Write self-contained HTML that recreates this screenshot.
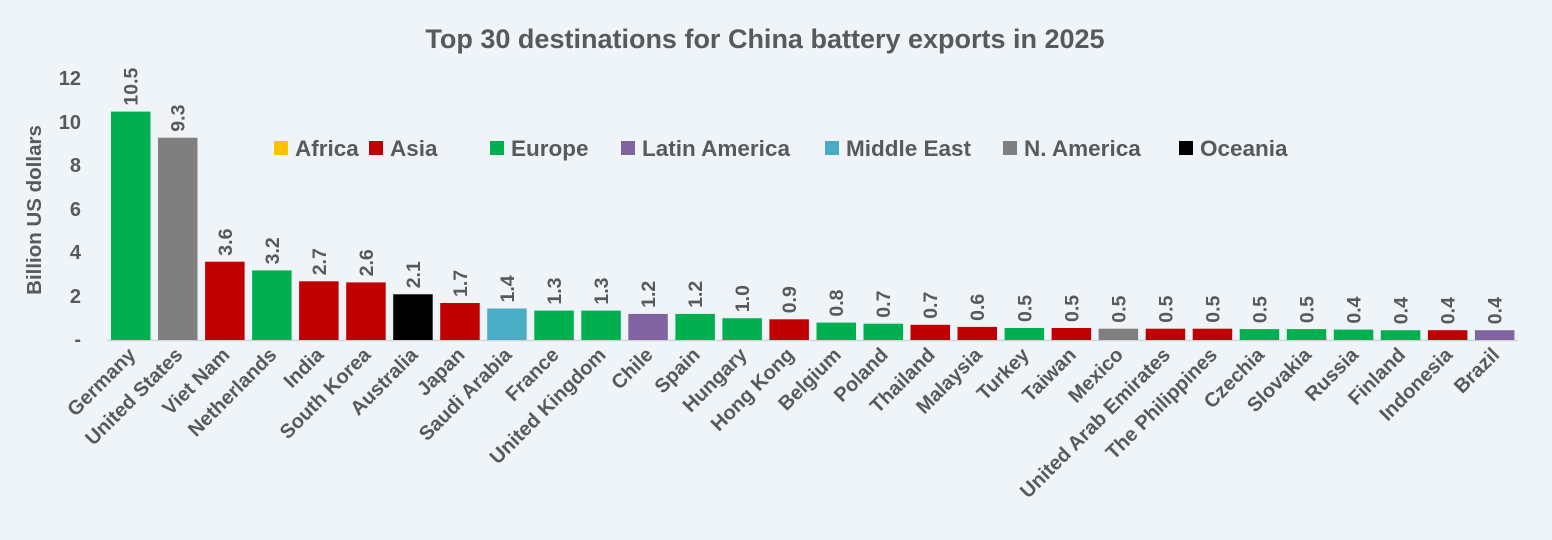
<!DOCTYPE html>
<html><head><meta charset="utf-8"><style>
body{margin:0;background:#eff4f9;}
svg{display:block;font-family:"Liberation Sans",sans-serif;font-weight:bold;}
</style></head><body>
<svg width="1552" height="540" viewBox="0 0 1552 540" xmlns="http://www.w3.org/2000/svg">
<rect width="1552" height="540" fill="#eff4f9"/>
<text x="765" y="48" text-anchor="middle" font-size="27" fill="#595959">Top 30 destinations for China battery exports in 2025</text>
<text transform="translate(41,210) rotate(-90)" text-anchor="middle" font-size="20.5" fill="#595959">Billion US dollars</text>
<g font-size="20" fill="#595959" text-anchor="end">
<text x="81" y="85">12</text><text x="81" y="129">10</text><text x="81" y="172">8</text>
<text x="81" y="216">6</text><text x="81" y="259">4</text><text x="81" y="303">2</text><text x="81" y="346">-</text>
</g>
<line x1="107" y1="340.5" x2="1518" y2="340.5" stroke="#d0d4d8" stroke-width="1.5"/>
<g font-size="22.5" fill="#595959">
<rect x="274" y="141" width="14" height="14" fill="#ffc000"/><text x="295" y="156">Africa</text>
<rect x="369" y="141" width="14" height="14" fill="#c00000"/><text x="390" y="156">Asia</text>
<rect x="490" y="141" width="14" height="14" fill="#00b050"/><text x="511" y="156">Europe</text>
<rect x="621" y="141" width="14" height="14" fill="#8064a2"/><text x="642" y="156">Latin America</text>
<rect x="825" y="141" width="14" height="14" fill="#4bacc6"/><text x="846" y="156">Middle East</text>
<rect x="1003" y="141" width="14" height="14" fill="#7f7f7f"/><text x="1024" y="156">N. America</text>
<rect x="1179" y="141" width="14" height="14" fill="#000000"/><text x="1200" y="156">Oceania</text>
</g>
<g font-size="19.5" fill="#595959">
<g transform="translate(111.0,0)"><rect y="111.6" width="39.5" height="228.4" fill="#00b050"/><text transform="translate(26.7,105.6) rotate(-90)">10.5</text><text transform="translate(25.7,356) rotate(-45)" text-anchor="end" font-size="20">Germany</text></g>
<g transform="translate(158.0,0)"><rect y="137.7" width="39.5" height="202.3" fill="#7f7f7f"/><text transform="translate(26.7,131.7) rotate(-90)">9.3</text><text transform="translate(25.7,356) rotate(-45)" text-anchor="end" font-size="20">United States</text></g>
<g transform="translate(205.1,0)"><rect y="261.7" width="39.5" height="78.3" fill="#c00000"/><text transform="translate(26.7,255.7) rotate(-90)">3.6</text><text transform="translate(25.7,356) rotate(-45)" text-anchor="end" font-size="20">Viet Nam</text></g>
<g transform="translate(252.1,0)"><rect y="270.4" width="39.5" height="69.6" fill="#00b050"/><text transform="translate(26.7,264.4) rotate(-90)">3.2</text><text transform="translate(25.7,356) rotate(-45)" text-anchor="end" font-size="20">Netherlands</text></g>
<g transform="translate(299.1,0)"><rect y="281.3" width="39.5" height="58.7" fill="#c00000"/><text transform="translate(26.7,275.3) rotate(-90)">2.7</text><text transform="translate(25.7,356) rotate(-45)" text-anchor="end" font-size="20">India</text></g>
<g transform="translate(346.2,0)"><rect y="282.4" width="39.5" height="57.6" fill="#c00000"/><text transform="translate(26.7,276.4) rotate(-90)">2.6</text><text transform="translate(25.7,356) rotate(-45)" text-anchor="end" font-size="20">South Korea</text></g>
<g transform="translate(393.2,0)"><rect y="294.3" width="39.5" height="45.7" fill="#000000"/><text transform="translate(26.7,288.3) rotate(-90)">2.1</text><text transform="translate(25.7,356) rotate(-45)" text-anchor="end" font-size="20">Australia</text></g>
<g transform="translate(440.2,0)"><rect y="303.0" width="39.5" height="37.0" fill="#c00000"/><text transform="translate(26.7,297.0) rotate(-90)">1.7</text><text transform="translate(25.7,356) rotate(-45)" text-anchor="end" font-size="20">Japan</text></g>
<g transform="translate(487.2,0)"><rect y="308.5" width="39.5" height="31.5" fill="#4bacc6"/><text transform="translate(26.7,302.5) rotate(-90)">1.4</text><text transform="translate(25.7,356) rotate(-45)" text-anchor="end" font-size="20">Saudi Arabia</text></g>
<g transform="translate(534.3,0)"><rect y="310.6" width="39.5" height="29.4" fill="#00b050"/><text transform="translate(26.7,304.6) rotate(-90)">1.3</text><text transform="translate(25.7,356) rotate(-45)" text-anchor="end" font-size="20">France</text></g>
<g transform="translate(581.3,0)"><rect y="310.6" width="39.5" height="29.4" fill="#00b050"/><text transform="translate(26.7,304.6) rotate(-90)">1.3</text><text transform="translate(25.7,356) rotate(-45)" text-anchor="end" font-size="20">United Kingdom</text></g>
<g transform="translate(628.3,0)"><rect y="313.9" width="39.5" height="26.1" fill="#8064a2"/><text transform="translate(26.7,307.9) rotate(-90)">1.2</text><text transform="translate(25.7,356) rotate(-45)" text-anchor="end" font-size="20">Chile</text></g>
<g transform="translate(675.4,0)"><rect y="313.9" width="39.5" height="26.1" fill="#00b050"/><text transform="translate(26.7,307.9) rotate(-90)">1.2</text><text transform="translate(25.7,356) rotate(-45)" text-anchor="end" font-size="20">Spain</text></g>
<g transform="translate(722.4,0)"><rect y="318.2" width="39.5" height="21.8" fill="#00b050"/><text transform="translate(26.7,312.2) rotate(-90)">1.0</text><text transform="translate(25.7,356) rotate(-45)" text-anchor="end" font-size="20">Hungary</text></g>
<g transform="translate(769.4,0)"><rect y="319.3" width="39.5" height="20.7" fill="#c00000"/><text transform="translate(26.7,313.3) rotate(-90)">0.9</text><text transform="translate(25.7,356) rotate(-45)" text-anchor="end" font-size="20">Hong Kong</text></g>
<g transform="translate(816.5,0)"><rect y="322.6" width="39.5" height="17.4" fill="#00b050"/><text transform="translate(26.7,316.6) rotate(-90)">0.8</text><text transform="translate(25.7,356) rotate(-45)" text-anchor="end" font-size="20">Belgium</text></g>
<g transform="translate(863.5,0)"><rect y="323.7" width="39.5" height="16.3" fill="#00b050"/><text transform="translate(26.7,317.7) rotate(-90)">0.7</text><text transform="translate(25.7,356) rotate(-45)" text-anchor="end" font-size="20">Poland</text></g>
<g transform="translate(910.5,0)"><rect y="324.8" width="39.5" height="15.2" fill="#c00000"/><text transform="translate(26.7,318.8) rotate(-90)">0.7</text><text transform="translate(25.7,356) rotate(-45)" text-anchor="end" font-size="20">Thailand</text></g>
<g transform="translate(957.5,0)"><rect y="326.9" width="39.5" height="13.1" fill="#c00000"/><text transform="translate(26.7,320.9) rotate(-90)">0.6</text><text transform="translate(25.7,356) rotate(-45)" text-anchor="end" font-size="20">Malaysia</text></g>
<g transform="translate(1004.6,0)"><rect y="328.0" width="39.5" height="12.0" fill="#00b050"/><text transform="translate(26.7,322.0) rotate(-90)">0.5</text><text transform="translate(25.7,356) rotate(-45)" text-anchor="end" font-size="20">Turkey</text></g>
<g transform="translate(1051.6,0)"><rect y="328.0" width="39.5" height="12.0" fill="#c00000"/><text transform="translate(26.7,322.0) rotate(-90)">0.5</text><text transform="translate(25.7,356) rotate(-45)" text-anchor="end" font-size="20">Taiwan</text></g>
<g transform="translate(1098.6,0)"><rect y="328.7" width="39.5" height="11.3" fill="#7f7f7f"/><text transform="translate(26.7,322.7) rotate(-90)">0.5</text><text transform="translate(25.7,356) rotate(-45)" text-anchor="end" font-size="20">Mexico</text></g>
<g transform="translate(1145.7,0)"><rect y="328.7" width="39.5" height="11.3" fill="#c00000"/><text transform="translate(26.7,322.7) rotate(-90)">0.5</text><text transform="translate(25.7,356) rotate(-45)" text-anchor="end" font-size="20">United Arab Emirates</text></g>
<g transform="translate(1192.7,0)"><rect y="328.7" width="39.5" height="11.3" fill="#c00000"/><text transform="translate(26.7,322.7) rotate(-90)">0.5</text><text transform="translate(25.7,356) rotate(-45)" text-anchor="end" font-size="20">The Philippines</text></g>
<g transform="translate(1239.7,0)"><rect y="329.1" width="39.5" height="10.9" fill="#00b050"/><text transform="translate(26.7,323.1) rotate(-90)">0.5</text><text transform="translate(25.7,356) rotate(-45)" text-anchor="end" font-size="20">Czechia</text></g>
<g transform="translate(1286.8,0)"><rect y="329.1" width="39.5" height="10.9" fill="#00b050"/><text transform="translate(26.7,323.1) rotate(-90)">0.5</text><text transform="translate(25.7,356) rotate(-45)" text-anchor="end" font-size="20">Slovakia</text></g>
<g transform="translate(1333.8,0)"><rect y="329.6" width="39.5" height="10.4" fill="#00b050"/><text transform="translate(26.7,323.6) rotate(-90)">0.4</text><text transform="translate(25.7,356) rotate(-45)" text-anchor="end" font-size="20">Russia</text></g>
<g transform="translate(1380.8,0)"><rect y="330.2" width="39.5" height="9.8" fill="#00b050"/><text transform="translate(26.7,324.2) rotate(-90)">0.4</text><text transform="translate(25.7,356) rotate(-45)" text-anchor="end" font-size="20">Finland</text></g>
<g transform="translate(1427.9,0)"><rect y="330.2" width="39.5" height="9.8" fill="#c00000"/><text transform="translate(26.7,324.2) rotate(-90)">0.4</text><text transform="translate(25.7,356) rotate(-45)" text-anchor="end" font-size="20">Indonesia</text></g>
<g transform="translate(1474.9,0)"><rect y="330.2" width="39.5" height="9.8" fill="#8064a2"/><text transform="translate(26.7,324.2) rotate(-90)">0.4</text><text transform="translate(25.7,356) rotate(-45)" text-anchor="end" font-size="20">Brazil</text></g>
</g>
</svg>
</body></html>
